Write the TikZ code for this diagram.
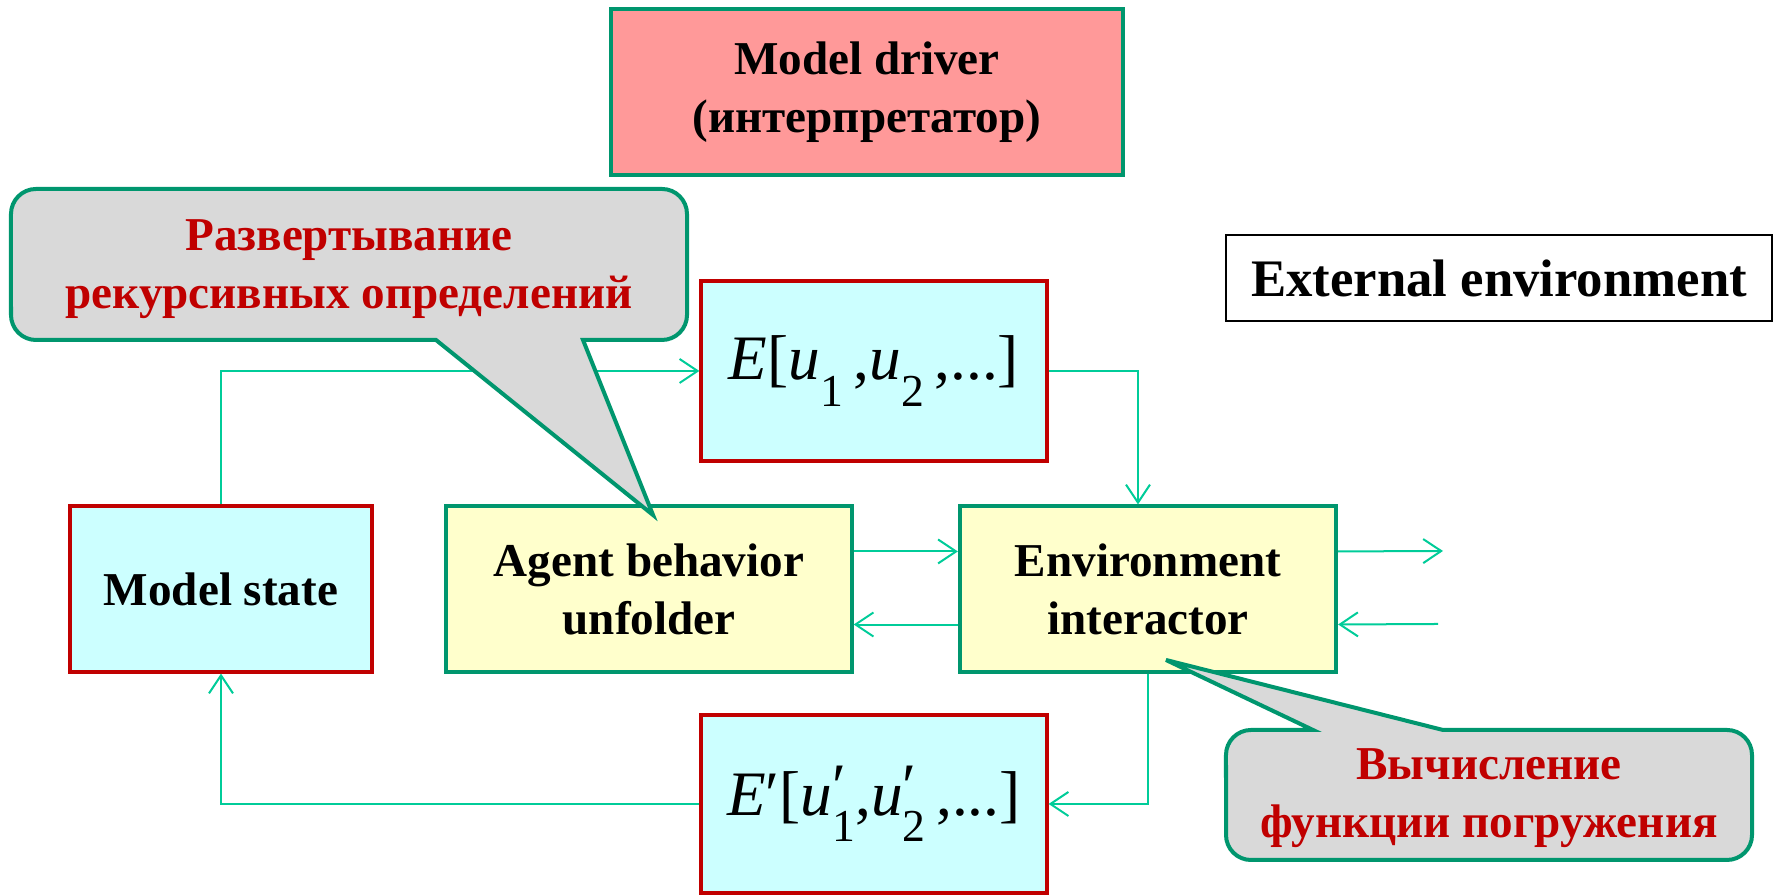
\documentclass[tikz,border=0pt]{standalone}
\usepackage{fontspec}
\setmainfont{Liberation Serif}
\usetikzlibrary{arrows.meta}

\definecolor{boxgreen}{RGB}{0,150,110}
\definecolor{boxred}{RGB}{192,0,0}
\definecolor{flowc}{RGB}{0,204,153}
\definecolor{cyanfill}{RGB}{204,255,255}
\definecolor{yellowfill}{RGB}{255,255,204}
\definecolor{pinkfill}{RGB}{255,153,153}
\definecolor{bubblegray}{RGB}{217,217,217}

% lowered index and raised prime for the formulas
\newcommand{\lowidx}[1]{\raisebox{-0.9ex}{\fontsize{13}{13}\selectfont #1}}
\newcommand{\hiprime}{\rlap{\raisebox{0.25ex}{′}}}

\tikzset{
  lbl/.style={align=center, font=\fontsize{13.4}{16.5}\selectfont\bfseries},
  databox/.style={draw=boxred, fill=cyanfill, line width=0.4mm},
  unitbox/.style={lbl, draw=boxgreen, fill=yellowfill, line width=0.4mm, minimum height=1.65cm},
  flow/.style={draw=flowc, line width=0.2mm, -{Straight Barb[length=1.8mm,width=2.4mm]}},
  bubble/.style={draw=boxgreen, fill=bubblegray, line width=0.4mm},
  bubbletext/.style={lbl, text=boxred},
  formula/.style={font=\fontsize{18}{20}\selectfont}
}

\begin{document}
\begin{tikzpicture}[x=0.01cm,y=0.01cm]
\useasboundingbox (0,0) rectangle (1775,895);

% Drawing boxes
\node[lbl, draw=boxgreen, fill=pinkfill, line width=0.4mm, minimum width=5.12cm, minimum height=1.66cm] (driver) at (867,803) {Model driver\\(интерпретатор)};
\node[lbl, font=\fontsize{15}{17}\selectfont\bfseries, draw=black, line width=0.2mm, minimum width=5.46cm, minimum height=0.85cm] (ext) at (1499,617) {External environment};
\node[databox, formula, minimum width=3.45cm, minimum height=1.8cm] (E) at (874,524)
  {{\itshape E}[{\itshape u}\lowidx{1}\,,{\itshape u}\lowidx{2}\,,...]};
\node[databox, lbl, minimum width=3.01cm, minimum height=1.65cm] (state) at (221,306) {Model state};
\node[unitbox, minimum width=4.05cm] (agent) at (649,306) {Agent behavior\\unfolder};
\node[unitbox, minimum width=3.76cm] (env) at (1148,306) {Environment\\interactor};
\node[databox, formula, minimum width=3.45cm, minimum height=1.78cm] (Ep) at (874,91)
  {{\itshape E}′[{\itshape u}\hiprime\lowidx{1},{\itshape u}\hiprime\lowidx{2}\,,...]};

% Drawing connectors
\coordinate (outR) at (1443,344);
\coordinate (inR) at (1438,271);
\draw[flow] (state.north) |- (E.west);
\draw[flow] (E.east) -| ([xshift=-0.1cm]env.north);
\draw[flow] ([yshift=0.375cm]agent.east) -- ([yshift=0.375cm]env.west);
\draw[flow] ([yshift=-0.355cm]env.west) -- ([yshift=-0.355cm]agent.east);
\draw[flow] ([yshift=0.375cm]env.east) -- (outR);
\draw[flow] (inR) -- ([yshift=-0.355cm]env.east);
\draw[flow] (env.south) |- (Ep.east);
\draw[flow] (Ep.west) -| (state.south);

% Drawing callouts
\draw[bubble] (436,555) -- (653,380) -- (583,555) -- (662,555)
  arc[start angle=270, end angle=360, radius=0.25cm] -- (687,681)
  arc[start angle=0, end angle=90, radius=0.25cm] -- (36,706)
  arc[start angle=90, end angle=180, radius=0.25cm] -- (11,580)
  arc[start angle=180, end angle=270, radius=0.25cm] -- cycle;
\node[bubbletext] (unfoldnote) at (349,626) {Развертывание\\рекурсивных определений};

\draw[bubble] (1443,165) -- (1166,235) -- (1313,165) -- (1251,165)
  arc[start angle=90, end angle=180, radius=0.25cm] -- (1226,60)
  arc[start angle=180, end angle=270, radius=0.25cm] -- (1727,35)
  arc[start angle=270, end angle=360, radius=0.25cm] -- (1752,140)
  arc[start angle=0, end angle=90, radius=0.25cm] -- cycle;
\node[bubbletext] (immersenote) at (1489,97) {Вычисление\\функции погружения};
\end{tikzpicture}
\end{document}
